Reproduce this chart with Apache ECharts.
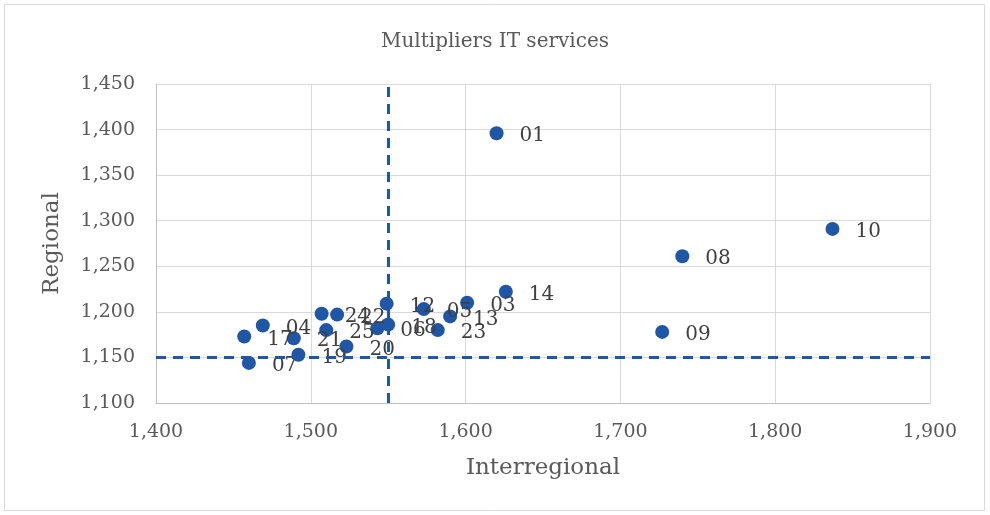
<!DOCTYPE html>
<html>
<head>
<meta charset="utf-8">
<script src="https://cdn.jsdelivr.net/npm/echarts@6/dist/echarts.min.js"></script>
<style>
  html, body { margin: 0; padding: 0; background: #ffffff; }
  #chart { width: 990px; height: 515px; }
</style>
</head>
<body>
<div id="chart"></div>
<script>
// Region codes and their multipliers
const regions = ['01','03','04','05','06','07','08','09','10','12','13','14','17','18','19','20','21','22','23','24','25'];
const interregional = [1620, 1601, 1469, 1573, 1543, 1460, 1740, 1727, 1837, 1549, 1590, 1626, 1457, 1550, 1492, 1523, 1489, 1517, 1582, 1507, 1510];
const regional      = [1396, 1210, 1185, 1203, 1182, 1144, 1261, 1178, 1291, 1209, 1195, 1222, 1173, 1186, 1153, 1162, 1171, 1197, 1180, 1198, 1180];

// Reference lines
const refInterregional = 1550;
const refRegional = 1150;

// Axis ranges
const xMin = 1400, xMax = 1900, xStep = 100;
const yMin = 1100, yMax = 1450, yStep = 50;

const points = regions.map((r, i) => ({ name: r, value: [interregional[i], regional[i]] }));

const serif = '"DejaVu Serif", "Liberation Serif", serif';
const blue = '#1f56a6';
const fmt = v => v.toLocaleString('en-US');

const chart = echarts.init(document.getElementById('chart'), null, { renderer: 'canvas' });
chart.setOption({
  backgroundColor: '#ffffff',
  animation: false,
  title: {
    text: 'Multipliers IT services',
    left: 'center',
    top: 27,
    textStyle: { fontFamily: serif, fontSize: 20, fontWeight: 'normal', color: '#595959' }
  },
  graphic: [{
    type: 'rect',
    shape: { x: 4.5, y: 4.5, width: 980, height: 506 },
    style: { fill: 'none', stroke: '#d9d9d9', lineWidth: 1 },
    silent: true
  }],
  grid: { left: 156, right: 60, top: 84, bottom: 112, containLabel: false },
  xAxis: {
    type: 'value',
    min: xMin, max: xMax, interval: xStep,
    name: 'Interregional',
    nameLocation: 'middle',
    nameGap: 54,
    nameTextStyle: { fontFamily: serif, fontSize: 23, color: '#595959' },
    axisLine: { show: true, lineStyle: { color: '#bfbfbf', width: 1 } },
    axisTick: { show: false },
    axisLabel: { fontFamily: serif, fontSize: 19, color: '#595959', margin: 20, formatter: fmt },
    splitLine: { show: true, lineStyle: { color: '#d9d9d9', width: 1 } }
  },
  yAxis: {
    type: 'value',
    min: yMin, max: yMax, interval: yStep,
    name: 'Regional',
    nameLocation: 'middle',
    nameGap: 92,
    nameRotate: 90,
    nameTextStyle: { fontFamily: serif, fontSize: 23, color: '#595959' },
    axisLine: { show: true, lineStyle: { color: '#bfbfbf', width: 1 } },
    axisTick: { show: false },
    axisLabel: { fontFamily: serif, fontSize: 19, color: '#595959', margin: 21, formatter: fmt },
    splitLine: { show: true, lineStyle: { color: '#d9d9d9', width: 1 } }
  },
  series: [{
    type: 'scatter',
    data: points,
    symbol: 'circle',
    symbolSize: 14,
    itemStyle: { color: blue, opacity: 1 },
    label: {
      show: true,
      position: 'right',
      distance: 16,
      offset: [0, 3],
      formatter: p => p.name,
      fontFamily: serif,
      fontSize: 20,
      color: '#404040'
    },
    markLine: {
      silent: true,
      symbol: 'none',
      label: { show: false },
      lineStyle: { color: blue, width: 3, type: [10, 7] },
      data: [{ xAxis: refInterregional }, { yAxis: refRegional }]
    },
    z: 3
  }]
});
</script>
</body>
</html>
